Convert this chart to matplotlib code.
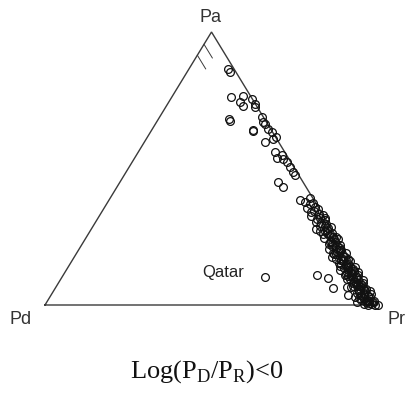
import matplotlib
matplotlib.use("Agg")
import matplotlib.pyplot as plt
import numpy as np

plt.rcParams['mathtext.fontset'] = 'custom'
plt.rcParams['mathtext.rm'] = 'Liberation Serif'

# ternary shares for each observation: Pa (apex) and Pd (left corner);
# Pr is whatever is left over
pa = [
    0.864, 0.853, 0.761, 0.765, 0.743, 0.754, 0.724, 0.680, 0.673, 0.640,
    0.688, 0.662, 0.669, 0.728, 0.735, 0.636, 0.643, 0.632, 0.596, 0.607,
    0.614, 0.559, 0.540, 0.551, 0.533, 0.522, 0.504, 0.489, 0.478, 0.452,
    0.434, 0.386, 0.379, 0.393, 0.375,
    0.370, 0.360, 0.355, 0.350, 0.345, 0.340, 0.335, 0.330, 0.325, 0.320,
    0.315, 0.310, 0.305, 0.300, 0.295, 0.290, 0.285, 0.280, 0.275, 0.270,
    0.265, 0.260, 0.255, 0.250, 0.245, 0.240, 0.235, 0.230, 0.225, 0.220,
    0.215, 0.210, 0.205, 0.200, 0.195, 0.190, 0.185, 0.180, 0.175, 0.170,
    0.165, 0.160, 0.155, 0.150, 0.145, 0.140, 0.135, 0.130, 0.125, 0.120,
    0.115, 0.110, 0.105, 0.100, 0.095, 0.090, 0.085, 0.080, 0.075, 0.070,
    0.065, 0.060, 0.055, 0.050, 0.045, 0.040, 0.035, 0.030, 0.025, 0.020,
    0.015, 0.010, 0.005, 0.000, 0.000,
    0.320, 0.290, 0.270, 0.250, 0.230, 0.210, 0.190, 0.170, 0.160, 0.150,
    0.140, 0.130, 0.120, 0.110, 0.100, 0.090, 0.080, 0.070, 0.060, 0.050,
    0.045, 0.035, 0.030, 0.020, 0.015, 0.010, 0.005, 0.000,
    0.282, 0.262, 0.242, 0.222, 0.202, 0.188, 0.176, 0.164, 0.152, 0.142,
    0.132, 0.122, 0.112, 0.102, 0.094, 0.086, 0.078, 0.068, 0.058, 0.048,
    0.040, 0.032, 0.024, 0.016, 0.008, 0.198, 0.168, 0.138, 0.108, 0.078,
    0.110, 0.099, 0.063, 0.066, 0.037, 0.011,
]
pd_ = [
    0.018, 0.018, 0.061, 0.023, 0.043, 0.000, 0.008, 0.107, 0.109, 0.055,
    0.005, 0.008, 0.010, 0.041, 0.002, 0.057, 0.009, 0.002, 0.041, 0.012,
    0.000, 0.030, 0.033, 0.013, 0.019, 0.012, 0.013, 0.011, 0.010, 0.074,
    0.068, 0.041, 0.030, 0.008, 0.008,
    0.020, 0.010, 0.035, 0.005, 0.020, 0.030, 0.010, 0.000, 0.040, 0.015,
    0.025, 0.005, 0.035, 0.020, 0.010, 0.030, 0.000, 0.045, 0.015, 0.025,
    0.005, 0.035, 0.020, 0.010, 0.040, 0.000, 0.025, 0.015, 0.035, 0.005,
    0.030, 0.020, 0.045, 0.010, 0.025, 0.000, 0.035, 0.015, 0.050, 0.020,
    0.030, 0.005, 0.040, 0.015, 0.025, 0.000, 0.035, 0.050, 0.010, 0.020,
    0.040, 0.005, 0.030, 0.015, 0.045, 0.000, 0.025, 0.035, 0.010, 0.020,
    0.050, 0.005, 0.030, 0.015, 0.040, 0.000, 0.025, 0.010, 0.045, 0.020,
    0.005, 0.030, 0.015, 0.000, 0.010,
    0.000, 0.015, 0.040, 0.000, 0.030, 0.010, 0.040, 0.005, 0.025, 0.035,
    0.015, 0.025, 0.000, 0.045, 0.025, 0.015, 0.005, 0.040, 0.025, 0.000,
    0.020, 0.035, 0.055, 0.040, 0.025, 0.010, 0.040, 0.030,
    0.008, 0.022, 0.012, 0.028, 0.018, 0.038, 0.010, 0.028, 0.020, 0.042,
    0.008, 0.032, 0.022, 0.012, 0.038, 0.028, 0.020, 0.030, 0.012, 0.034,
    0.022, 0.014, 0.030, 0.018, 0.022, 0.015, 0.042, 0.020, 0.035, 0.028,
    0.128, 0.100, 0.104, 0.060, 0.072, 0.058,
]

# labelled country
qatar_pa, qatar_pd = 0.103, 0.288

corner_labels = ["Pa", "Pd", "Pr"]
title = r"Log(P$_\mathrm{D}$/P$_\mathrm{R}$)<0"


def to_xy(a, d):
    a = np.asarray(a)
    d = np.asarray(d)
    # Pd at (0,0), Pr at (1,0), Pa at (0.5,1)
    return 1 - d - 0.5 * a, a


fig = plt.figure(figsize=(4.10, 3.94), dpi=100)
fig.patch.set_facecolor("white")
W, H = 410, 394
ax = fig.add_axes([45 / W, (H - 305) / H, 333 / W, 273 / H])
ax.set_xlim(0, 1)
ax.set_ylim(0, 1)
ax.axis("off")

edge = "#3a3a3a"
ax.plot([0, 1, 0.5, 0], [0, 0, 1, 0], color=edge, lw=1.0,
        clip_on=False, solid_joinstyle="miter")

# two short guides just below the apex
for a0 in (0.955, 0.915):
    x0 = 0.5 * a0
    ax.plot([x0, x0 + 0.5 * 0.05], [a0, a0 - 0.05], color=edge, lw=0.7,
            clip_on=False)

x, y = to_xy(pa, pd_)
ax.plot(x, y, "o", mfc="none", mec="#111111", ms=5.6, mew=0.9,
        clip_on=False)

qx, qy = to_xy(qatar_pa, qatar_pd)
ax.plot(qx, qy, "o", mfc="none", mec="#111111", ms=5.6, mew=0.9,
        clip_on=False)
ax.annotate("Qatar", (qx, qy), xytext=(-15, 3.5), textcoords="offset points",
            ha="right", va="center", fontsize=12, family="Liberation Sans",
            color="#222222")

lab = dict(fontsize=13, family="Liberation Sans", color="#333333",
           ha="center", va="center")
fig.text(211 / W, 1 - 17 / H, corner_labels[0], **lab)
fig.text(21 / W, 1 - 319 / H, corner_labels[1], **lab)
fig.text(397 / W, 1 - 319 / H, corner_labels[2], **lab)

fig.text(207 / W, 1 - 372 / H, title, fontsize=19, family="Liberation Serif",
         color="#111111", ha="center", va="center")

fig.savefig("out.png", dpi=100, facecolor="white")
